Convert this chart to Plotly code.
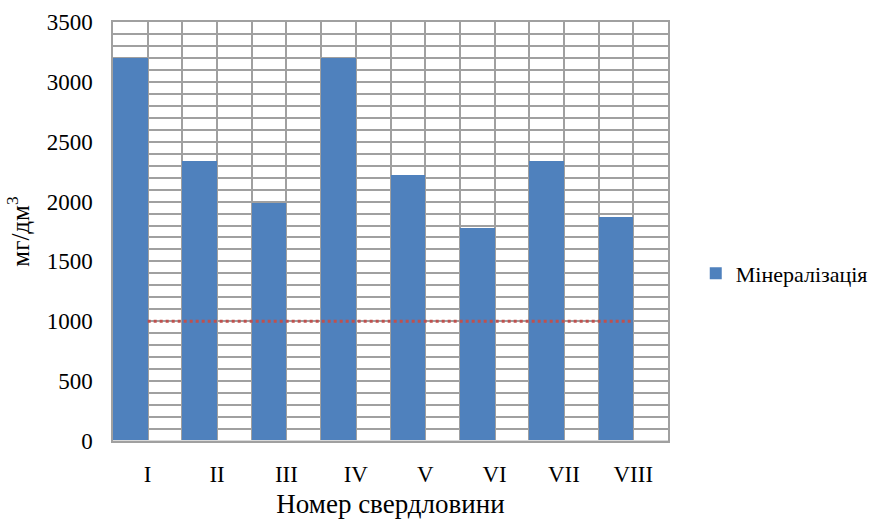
import plotly.graph_objects as go

# Borehole numbers and total mineralisation, mg/dm3
wells = ["I", "II", "III", "IV", "V", "VI", "VII", "VIII"]
mineralization = [3200, 2340, 1990, 3200, 2220, 1780, 2340, 1870]
# Drinking-water limit drawn as a dotted reference line
limit_value = 1000

x_pos = list(range(len(wells)))
GRID = "#A0A0A0"
FONT = "Liberation Serif"

fig = go.Figure()
fig.add_trace(go.Bar(
    x=x_pos, y=mineralization, name="Мінералізація",
    width=0.5, offset=-0.5,
    marker=dict(color="#4F81BD", line=dict(width=0)),
))
fig.add_trace(go.Scatter(
    x=[x_pos[0], x_pos[-1]], y=[limit_value, limit_value],
    mode="lines", line=dict(color="#C0504D", width=3, dash="dot"),
    showlegend=False, hoverinfo="skip",
))

fig.update_layout(
    width=883, height=519,
    margin=dict(l=113, r=215, t=22, b=78, autoexpand=False),
    paper_bgcolor="white", plot_bgcolor="white",
    font=dict(family=FONT, size=22, color="black"),
    bargap=0,
    legend=dict(x=1.05, y=0.40, xanchor="left", yanchor="middle",
                font=dict(family=FONT, size=22, color="black"),
                itemwidth=30, tracegroupgap=0),
    xaxis=dict(
        range=[-0.5, len(wells) - 0.5],
        tickmode="array", tickvals=x_pos, ticktext=wells,
        tickfont=dict(family=FONT, size=23, color="black"),
        ticks="", ticklabelstandoff=12, automargin=False,
        showgrid=True, gridcolor=GRID, gridwidth=1.5,
        minor=dict(tick0=-0.5, dtick=0.5, showgrid=True,
                   gridcolor=GRID, gridwidth=1.5),
        showline=True, linecolor=GRID, linewidth=1.5, mirror=True,
        zeroline=False,
        title=dict(text="Номер свердловини",
                   font=dict(family=FONT, size=27, color="black"),
                   standoff=12),
    ),
    yaxis=dict(
        range=[0, 3500], dtick=500, tick0=0,
        tickfont=dict(family=FONT, size=23, color="black"),
        ticks="", ticklabelstandoff=14, automargin=False,
        showgrid=True, gridcolor=GRID, gridwidth=1.5,
        minor=dict(dtick=100, showgrid=True, gridcolor=GRID, gridwidth=1.5),
        showline=True, linecolor=GRID, linewidth=1.5, mirror=True,
        zeroline=False,
        title=dict(text="мг/дм<sup>3</sup>",
                   font=dict(family=FONT, size=25, color="black"),
                   standoff=10),
    ),
)

# Light baseline along the category axis
fig.add_shape(type="line", xref="paper", yref="y", x0=0, x1=1, y0=0, y1=0,
              line=dict(color="#D9D9D9", width=2))

fig.write_html("out.html")
